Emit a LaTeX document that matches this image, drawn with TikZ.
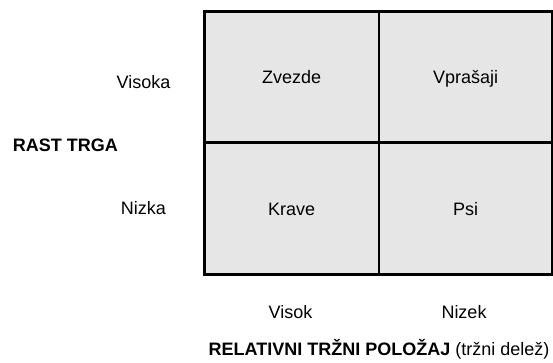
\documentclass[tikz,border=0pt]{standalone}
\usepackage{fontspec}
\setmainfont{Liberation Sans}
\definecolor{cellgray}{RGB}{230,230,230}
\begin{document}
\begin{tikzpicture}[x=1pt,y=1pt,
  txt/.style={font=\fontsize{18}{21}\selectfont, inner sep=0pt},
  cell/.style={txt, draw=black, line width=2.6pt, fill=cellgray,
    text height=12.9pt, text depth=0pt, anchor=south west},
  lbl/.style={txt, anchor=base},
]
\useasboundingbox (0,0) rectangle (553,363);
\node[cell, minimum width=174.5pt, minimum height=131pt] (zv) at (203,219) {Zvezde};
\node[cell, minimum width=173.5pt, minimum height=131pt] (vp) at (377.5,219) {Vprašaji};
\node[cell, minimum width=174.5pt, minimum height=132pt] (kr) at (203,87) {Krave};
\node[cell, minimum width=173.5pt, minimum height=132pt] (ps) at (377.5,87) {Psi};
\node[lbl] (visoka) at (143.5,274.7) {Visoka};
\node[lbl] (nizka) at (143.5,148) {Nizka};
\node[lbl, anchor=base west] (rast) at (12.7,211.3) {\bfseries RAST TRGA};
\node[lbl] (visok) at (290.5,44) {Visok};
\node[lbl] (nizek) at (464,44) {Nizek};
\node[lbl] (rel) at (379,7) {\bfseries RELATIVNI TRŽNI POLOŽAJ \mdseries(tržni delež)};
\end{tikzpicture}
\end{document}
